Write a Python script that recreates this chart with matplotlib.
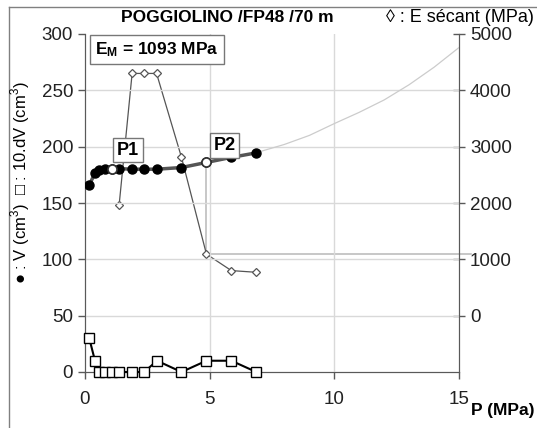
import matplotlib.pyplot as plt
from matplotlib.lines import Line2D

plt.rcParams['font.family'] = ['Liberation Sans', 'DejaVu Sans']
plt.rcParams['mathtext.fontset'] = 'custom'
plt.rcParams['mathtext.rm'] = 'Liberation Sans'
plt.rcParams['mathtext.bf'] = 'Liberation Sans:bold'

# pressure steps (MPa)
p = [0.17, 0.4, 0.56, 0.8, 1.07, 1.37, 1.89, 2.37, 2.89, 3.87, 4.87, 5.87, 6.87]
# volume V (cm3)
vol = [166, 176.5, 179, 180, 180, 180.5, 180, 180, 180, 181.5, 186, 190.5, 194.5]
# 10.dV (cm3)
dv = [30, 10, 0, 0, 0, 0, 0, 0, 10, 0, 10, 10, 0]
# secant modulus (MPa)
p_e = [1.37, 1.89, 2.37, 2.87, 3.87, 4.87, 5.87, 6.87]
e_sec = [1970, 4300, 4300, 4300, 2810, 1093, 800, 770]
# fitted curve extension
p_fit = [4.87, 6, 7, 8, 9, 10, 11, 12, 13, 14, 15]
v_fit = [186, 190.5, 195.5, 202, 210, 220.5, 230.5, 241.5, 255, 270.5, 288]
i_p1, i_p2 = 4, 10
e_m = 1093

fig = plt.figure(figsize=(5.37, 4.28), dpi=100)
ax = fig.add_axes([85 / 537, 1 - 372 / 428, 374 / 537, 338 / 428])
ax2 = ax.twinx()

grid = '#d9d9d9'
for y in [50, 100, 150, 200, 250]:
    ax.axhline(y, color=grid, lw=1, zorder=0)
for x in [5, 10]:
    ax.axvline(x, color=grid, lw=1, zorder=0)

# helper lines at P2
ax.plot(p_fit, v_fit, color='#cccccc', lw=0.9, zorder=1)
ax2.plot([p[i_p2], p[i_p2]], [e_sec[5], vol[i_p2] / 300 * 6000 - 1000],
         color='#bdbdbd', lw=1.2, zorder=1)
ax2.plot([p[i_p2], 15.5], [e_m, e_m], color='#bdbdbd', lw=1.2, zorder=1,
         clip_on=False)

ax2.plot(p_e, e_sec, color='#555555', lw=0.9, marker='D', ms=4.5,
         mfc='white', mec='#555555', mew=0.9, zorder=3)

ax.plot(p, vol, color='#555555', lw=2.5, marker='o', ms=6.5, mfc='black',
        mec='black', zorder=4)
ax.plot([p[i_p1], p[i_p2]], [vol[i_p1], vol[i_p2]], ls='none', marker='o',
        ms=6.5, mfc='white', mec='#333333', mew=1.2, zorder=5)
ax.plot(p, dv, color='black', lw=1.5, marker='s', ms=6.5, mfc='white',
        mec='black', mew=1, zorder=4, clip_on=False)

ax.set_xlim(0, 15)
ax.set_ylim(0, 300)
ax2.set_ylim(-1000, 5000)
ax.set_xticks([0, 5, 10, 15])
ax.set_yticks([0, 50, 100, 150, 200, 250, 300])
ax2.set_yticks([0, 1000, 2000, 3000, 4000, 5000])

ax.set_zorder(ax2.get_zorder() + 1)
ax.patch.set_visible(False)

for a in (ax, ax2):
    a.spines['top'].set_visible(False)
    for s in a.spines.values():
        s.set_color('#595959')
    a.tick_params(labelsize=13.5, colors='#595959', labelcolor='#222222',
                  length=5, width=1)
ax.tick_params(axis='x', pad=9)
ax2.tick_params(axis='y', direction='inout', length=8, pad=4)

box = dict(boxstyle='square,pad=0.2', fc='white', ec='#777777', lw=1)
ax.text(1.72, 197, 'P1', fontsize=13, fontweight='bold', ha='center',
        va='center', bbox=box, zorder=6)
ax.text(5.6, 201, 'P2', fontsize=13, fontweight='bold', ha='center',
        va='center', bbox=box, zorder=6)
ax.text(0.4, 286, r'$\mathbf{E_M}$' + ' = 1093 MPa', fontsize=12.5,
        fontweight='bold', ha='left', va='center',
        bbox=dict(boxstyle='square,pad=0.3', fc='white', ec='#777777', lw=1),
        zorder=6)

fig.text(227 / 537, 1 - 17 / 428, 'POGGIOLINO /FP48 /70 m', fontsize=12.5,
         fontweight='bold', ha='center', va='center')
fig.text(534 / 537, 1 - 18 / 428, '◊ : E sécant (MPa)', fontsize=13,
         ha='right', va='center',
         family=['Liberation Sans', 'DejaVu Sans'])
fig.text(20 / 537, 1 - 183 / 428, '● : V (cm$^3$)  □ : 10.dV (cm$^3$)',
         fontsize=12, rotation=90, ha='center', va='center',
         family=['Liberation Sans', 'DejaVu Sans'])
fig.text(503 / 537, 1 - 410 / 428, 'P (MPa)', fontsize=12.5, fontweight='bold',
         ha='center', va='center')

# outer frame
fig.add_artist(Line2D([9 / 537, 1], [1 - 7 / 428, 1 - 7 / 428],
                      color='#808080', lw=1))
fig.add_artist(Line2D([9 / 537, 9 / 537], [0, 1 - 7 / 428],
                      color='#808080', lw=1))

fig.savefig('out.png', dpi=100)
